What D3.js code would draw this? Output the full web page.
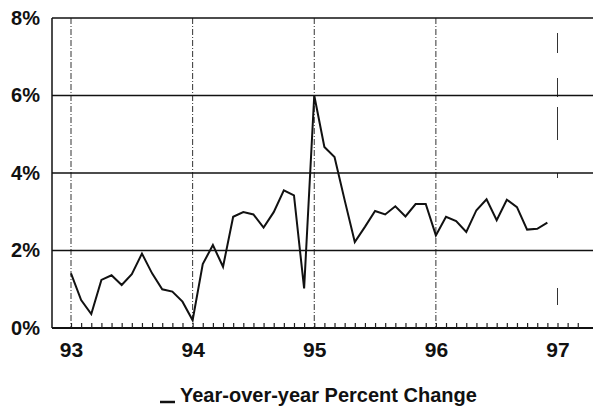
<!DOCTYPE html>
<html>
<head>
<meta charset="utf-8">
<script src="https://cdn.jsdelivr.net/npm/d3@7"></script>
<style>
  body { margin: 0; background: #fff; }
  svg { display: block; font-family: "Liberation Sans", Arial, sans-serif; }
</style>
</head>
<body>
<div id="chart-container"></div>
<script>
// Monthly values, Jan 93 .. Dec 96
const values93 = [1.41, 0.72, 0.36, 1.24, 1.36, 1.11, 1.39, 1.92, 1.41, 1.00, 0.94, 0.68];
const values94 = [0.20, 1.65, 2.14, 1.58, 2.87, 2.99, 2.93, 2.59, 2.99, 3.55, 3.42, 1.02];
const values95 = [6.00, 4.67, 4.41, 3.30, 2.22, 2.61, 3.02, 2.93, 3.14, 2.88, 3.20, 3.20];
const values96 = [2.39, 2.87, 2.76, 2.48, 3.04, 3.32, 2.78, 3.31, 3.12, 2.54, 2.56, 2.72];
const yearTicks = [93, 94, 95, 96, 97];
const yTicks = [0, 2, 4, 6, 8];
const legendLabel = "Year-over-year Percent Change";

const data = [...values93, ...values94, ...values95, ...values96]
  .map((v, i) => ({ t: 93 + i / 12, v: v }));

const W = 593, H = 411;
const margin = { top: 18, right: 0, bottom: 83, left: 52 };
const width = W - margin.left - margin.right;
const height = H - margin.top - margin.bottom;

// x: 93 sits a bit inside the left frame, 97 near x=558
const x = d3.scaleLinear()
  .domain([93, 97])
  .range([71 - margin.left, 557.5 - margin.left]);

const y = d3.scaleLinear()
  .domain([0, 8])
  .range([height, 0]);

const svg = d3.select("#chart-container")
  .append("svg")
  .attr("width", W)
  .attr("height", H)
  .append("g")
  .attr("transform", `translate(${margin.left}, ${margin.top})`);

// vertical dash-dot grid at each year (97 is only faintly broken dashes)
svg.selectAll(".vgrid")
  .data(yearTicks)
  .enter().append("line")
  .attr("class", "vgrid")
  .attr("x1", d => x(d)).attr("x2", d => x(d))
  .attr("y1", 0).attr("y2", height)
  .attr("stroke", "#333")
  .attr("stroke-width", 1)
  .attr("stroke-dasharray", d => d === 97 ? "0,15,20,25,19,10,33,33,5,110,17,100" : "6,2,1,2");

// horizontal grid
svg.selectAll(".hgrid")
  .data(yTicks.filter(d => d > 0))
  .enter().append("line")
  .attr("class", "hgrid")
  .attr("x1", 0).attr("x2", width + 10)
  .attr("y1", d => y(d)).attr("y2", d => y(d))
  .attr("stroke", "#111")
  .attr("stroke-width", 1.5);

// left frame
svg.append("line")
  .attr("x1", 0).attr("x2", 0)
  .attr("y1", 0).attr("y2", height)
  .attr("stroke", "#111")
  .attr("stroke-width", 1.5);

// x axis with monthly minor ticks pointing up
const months = d3.range(0, 51).map(i => 93 + i / 12);
svg.append("g")
  .attr("transform", `translate(0, ${height})`)
  .call(d3.axisTop(x).tickValues(months).tickSize(5).tickFormat(""))
  .call(g => g.select(".domain").attr("d", `M0,0H${width + 10}`).attr("stroke", "#111").attr("stroke-width", 2))
  .call(g => g.selectAll(".tick line").attr("stroke", "#222").attr("stroke-width", 1.2));

// x labels
svg.append("g")
  .attr("transform", `translate(0, ${height})`)
  .call(d3.axisBottom(x).tickValues(yearTicks).tickSize(0).tickFormat(d => d))
  .call(g => g.select(".domain").remove())
  .call(g => g.selectAll("text")
    .attr("y", 29)
    .attr("dy", null)
    .attr("fill", "#111")
    .style("font-size", "21px")
    .style("font-weight", "bold")
    .style("font-family", "'Liberation Sans', Arial, sans-serif"));

// y labels
svg.append("g")
  .call(d3.axisLeft(y).tickValues(yTicks).tickSize(0).tickPadding(12).tickFormat(d => d + "%"))
  .call(g => g.select(".domain").remove())
  .call(g => g.selectAll("text")
    .attr("fill", "#111")
    .style("font-size", "20px")
    .style("font-weight", "bold")
    .style("font-family", "'Liberation Sans', Arial, sans-serif"));

// series line
const line = d3.line()
  .x(d => x(d.t))
  .y(d => y(d.v));

svg.append("path")
  .datum(data)
  .attr("fill", "none")
  .attr("stroke", "#111")
  .attr("stroke-width", 2)
  .attr("stroke-linejoin", "miter")
  .attr("d", line);

// legend
const legend = d3.select("svg").append("g");
legend.append("line")
  .attr("x1", 160).attr("x2", 175)
  .attr("y1", 402).attr("y2", 402)
  .attr("stroke", "#111")
  .attr("stroke-width", 2.5);
legend.append("text")
  .attr("x", 180)
  .attr("y", 402)
  .attr("fill", "#111")
  .style("font-size", "20px")
  .style("font-weight", "bold")
  .text(legendLabel);
</script>
</body>
</html>
